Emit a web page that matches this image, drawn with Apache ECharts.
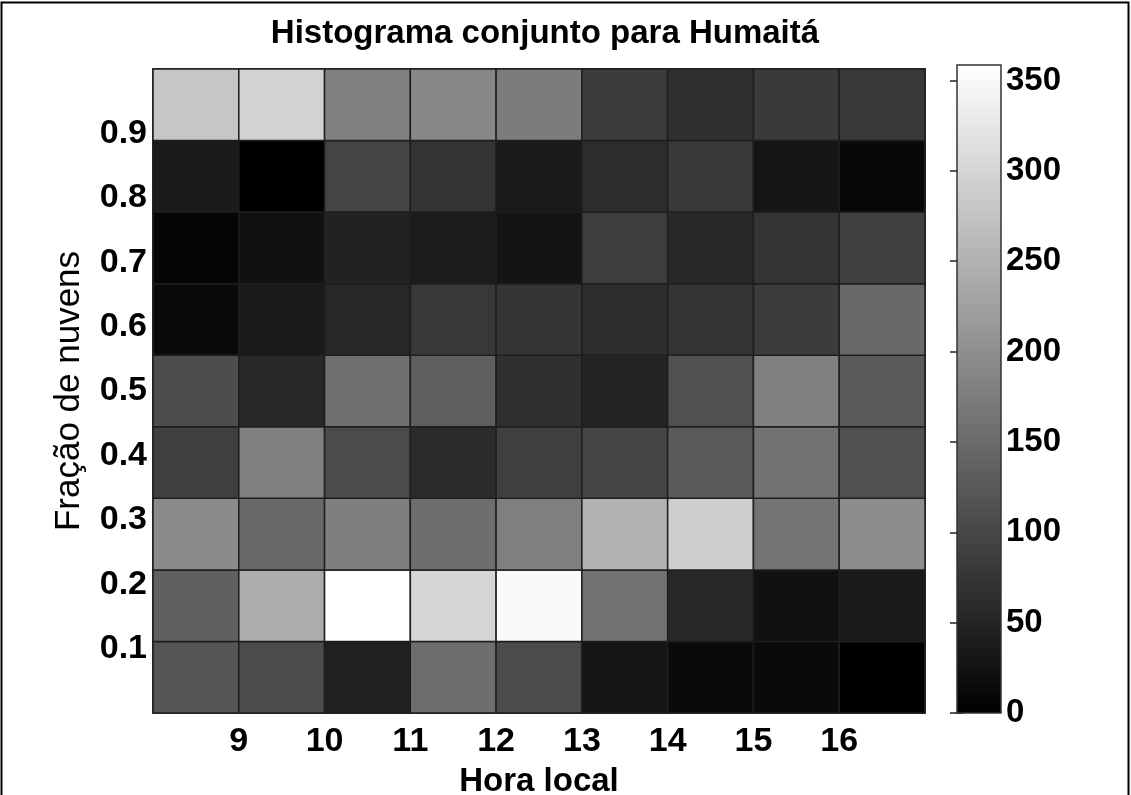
<!DOCTYPE html>
<html><head><meta charset="utf-8">
<script src="https://cdn.jsdelivr.net/npm/echarts@6/dist/echarts.min.js"></script>
<style>html,body{margin:0;padding:0;background:#fff}#c{width:1131px;height:795px}</style>
</head><body><div id="c"></div>
<script>
// Hour bins (local time) and cloud-fraction bins
const hourEdges = [8, 9, 10, 11, 12, 13, 14, 15, 16, 17];
const hourTicks = [9, 10, 11, 12, 13, 14, 15, 16];
const fracEdges = [0, 0.1111, 0.2222, 0.3333, 0.4444, 0.5556, 0.6667, 0.7778, 0.8889, 1];
const fracTicks = [0.1, 0.2, 0.3, 0.4, 0.5, 0.6, 0.7, 0.8, 0.9];
const colorbarTicks = [0, 50, 100, 150, 200, 250, 300, 350];
const colorMin = 0;
const colorMax = 358.6;

// Counts per cloud-fraction bin (bottom to top), one value per hour bin
const bin1 = [119, 105, 46, 154, 105, 31, 14, 14, 0];
const bin2 = [135, 243, 358, 300, 351, 161, 56, 24, 35];
const bin3 = [194, 147, 177, 154, 178, 251, 289, 163, 198];
const bin4 = [88, 178, 105, 60, 90, 95, 126, 160, 112];
const bin5 = [108, 58, 157, 132, 67, 51, 112, 180, 126];
const bin6 = [14, 37, 56, 79, 74, 65, 72, 84, 147];
const bin7 = [7, 24, 48, 39, 28, 86, 56, 73, 90];
const bin8 = [38, 0, 95, 72, 37, 62, 79, 29, 11];
const bin9 = [278, 296, 180, 190, 174, 84, 67, 81, 79];
const bins = [bin1, bin2, bin3, bin4, bin5, bin6, bin7, bin8, bin9];

const cells = [];
bins.forEach((row, j) => {
  row.forEach((v, i) => {
    cells.push([hourEdges[i], hourEdges[i + 1], fracEdges[j], fracEdges[j + 1], v]);
  });
});

const FONT = '"Liberation Sans", Arial, Helvetica, sans-serif';
const chart = echarts.init(document.getElementById('c'), null, {renderer: 'canvas'});
chart.setOption({
  backgroundColor: '#fff',
  animation: false,
  title: {
    text: 'Histograma conjunto para Humaitá',
    left: 540, top: 12, textAlign: 'center',
    textStyle: {fontFamily: FONT, fontSize: 33, fontWeight: 'bold', color: '#000'}
  },
  graphic: [{
    type: 'rect', shape: {x: 1.5, y: 2.5, width: 1127, height: 800},
    style: {fill: null, stroke: '#000', lineWidth: 2}, silent: true, z: 100
  }],
  grid: [
    {left: 153, top: 69, width: 772, height: 644, outerBoundsMode: 'none', containLabel: false,
     show: true, borderColor: '#000', borderWidth: 1.5, backgroundColor: 'transparent'},
    {left: 957, top: 65, width: 44, height: 648, outerBoundsMode: 'none', containLabel: false, show: false}
  ],
  visualMap: {
    show: false, type: 'continuous', min: colorMin, max: colorMax, dimension: 4, seriesIndex: 0,
    inRange: {color: ['#000000', '#ffffff']}
  },
  xAxis: [
    {
      type: 'value', gridIndex: 0, min: 8, max: 17,
      axisLine: {show: false}, axisTick: {show: false}, splitLine: {show: false},
      axisLabel: {customValues: hourTicks, fontFamily: FONT, fontSize: 34, fontWeight: 'bold', color: '#000', margin: 12},
      name: 'Hora local', nameLocation: 'middle', nameGap: 52,
      nameTextStyle: {fontFamily: FONT, fontSize: 33, fontWeight: 'bold', color: '#000'}
    },
    {type: 'value', gridIndex: 1, min: 0, max: 1, show: false}
  ],
  yAxis: [
    {
      type: 'value', gridIndex: 0, min: 0, max: 1,
      axisLine: {show: false}, axisTick: {show: false}, splitLine: {show: false},
      axisLabel: {customValues: fracTicks, fontFamily: FONT, fontSize: 34, fontWeight: 'bold', color: '#000', margin: 6},
      name: 'Fração de nuvens', nameLocation: 'middle', nameRotate: 90, nameGap: 66,
      nameTextStyle: {fontFamily: FONT, fontSize: 35, color: '#000'}
    },
    {
      type: 'value', gridIndex: 1, min: colorMin, max: colorMax, position: 'right',
      axisLine: {show: false}, splitLine: {show: false},
      axisTick: {show: true, inside: true, length: 7, customValues: colorbarTicks, lineStyle: {color: '#222', width: 1.5}},
      axisLabel: {customValues: colorbarTicks, fontFamily: FONT, fontSize: 33, fontWeight: 'bold', color: '#000', margin: 5}
    },
    {
      type: 'value', gridIndex: 1, min: colorMin, max: colorMax, position: 'left',
      axisLine: {show: false}, splitLine: {show: false}, axisLabel: {show: false},
      axisTick: {show: true, inside: true, length: 7, customValues: colorbarTicks, lineStyle: {color: '#222', width: 1.5}}
    }
  ],
  series: [
    {
      type: 'custom', xAxisIndex: 0, yAxisIndex: 0,
      encode: {x: [0, 1], y: [2, 3]},
      data: cells,
      renderItem: function (params, api) {
        const p0 = api.coord([api.value(0), api.value(3)]);
        const p1 = api.coord([api.value(1), api.value(2)]);
        return {
          type: 'rect',
          shape: {x: p0[0], y: p0[1], width: p1[0] - p0[0], height: p1[1] - p0[1]},
          style: {fill: api.visual('color'), stroke: '#1e1e1e', lineWidth: 1.5}
        };
      }
    },
    {
      type: 'custom', xAxisIndex: 1, yAxisIndex: 1, z: 1,
      encode: {x: [0, 1], y: [2, 3]},
      data: [[0, 1, colorMin, colorMax]],
      renderItem: function (params, api) {
        const p0 = api.coord([api.value(0), api.value(3)]);
        const p1 = api.coord([api.value(1), api.value(2)]);
        return {
          type: 'rect',
          shape: {x: p0[0], y: p0[1], width: p1[0] - p0[0], height: p1[1] - p0[1]},
          style: {
            fill: new echarts.graphic.LinearGradient(0, 0, 0, 1, [
              {offset: 0, color: '#ffffff'}, {offset: 1, color: '#000000'}
            ]),
            stroke: '#333', lineWidth: 1.5
          }
        };
      }
    }
  ]
});
</script>
</body></html>
